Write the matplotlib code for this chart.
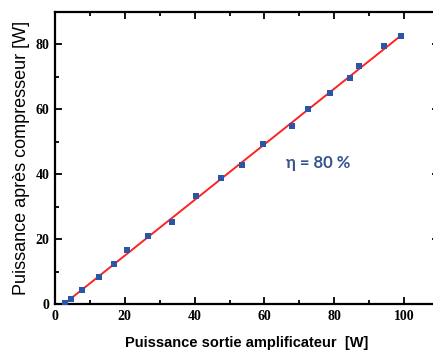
import numpy as np
import matplotlib.pyplot as plt

p_in = [2.9, 4.6, 7.7, 12.5, 16.9, 20.5, 26.6, 33.5, 40.4, 47.5, 53.6,
        59.7, 68.0, 72.6, 78.9, 84.6, 87.0, 94.4, 99.1]
p_out = [0.4, 1.4, 4.3, 8.2, 12.4, 16.5, 20.9, 25.3, 33.4, 38.7, 42.8,
         49.4, 54.8, 60.2, 64.9, 69.6, 73.3, 79.5, 82.6]

fig = plt.figure(figsize=(4.33, 3.53), dpi=100)
# axes run past the right border, as in the cropped original
ax = fig.add_axes([55/433, 49/353, 384/433, 292/353])

a, b = np.polyfit(p_in, p_out, 1)
x0 = -b / a
xs = np.array([x0, max(p_in)])
ax.plot(xs, a * xs + b, color='#ff2222', lw=1.4, zorder=2)
ax.scatter(p_in, p_out, marker='s', s=22, color='#2b56a8', zorder=3, linewidths=0)

ax.set_xlim(0, 384 / 3.49)
ax.set_ylim(0, 90)
ax.set_xticks([0, 20, 40, 60, 80, 100])
ax.set_yticks([0, 20, 40, 60, 80])
ax.set_xticks(np.arange(10, 110, 20), minor=True)
ax.set_yticks(np.arange(10, 90, 20), minor=True)
ax.tick_params(which='both', direction='in', top=True, right=True, width=1.3)
ax.tick_params(which='major', length=5, pad=4)
ax.tick_params(which='minor', length=3)
for lab in ax.get_xticklabels() + ax.get_yticklabels():
    lab.set_fontfamily('Liberation Serif')
    lab.set_fontweight('bold')
    lab.set_fontsize(10)
for s in ax.spines.values():
    s.set_linewidth(1.6)
ax.spines['right'].set_visible(False)

ax.set_ylabel('Puissance après compresseur [W]', fontsize=13,
              family='Liberation Sans', labelpad=4)
ax.set_xlabel('Puissance sortie amplificateur  [W]', fontsize=10.5,
              family='Liberation Sans', fontweight='bold', labelpad=10)

ax.text(75.4, 43.4, 'η = 80 %', color='#34548c', fontsize=12,
        fontweight='bold', family='Lato', ha='center', va='center')

fig.savefig('out.png', dpi=100)
